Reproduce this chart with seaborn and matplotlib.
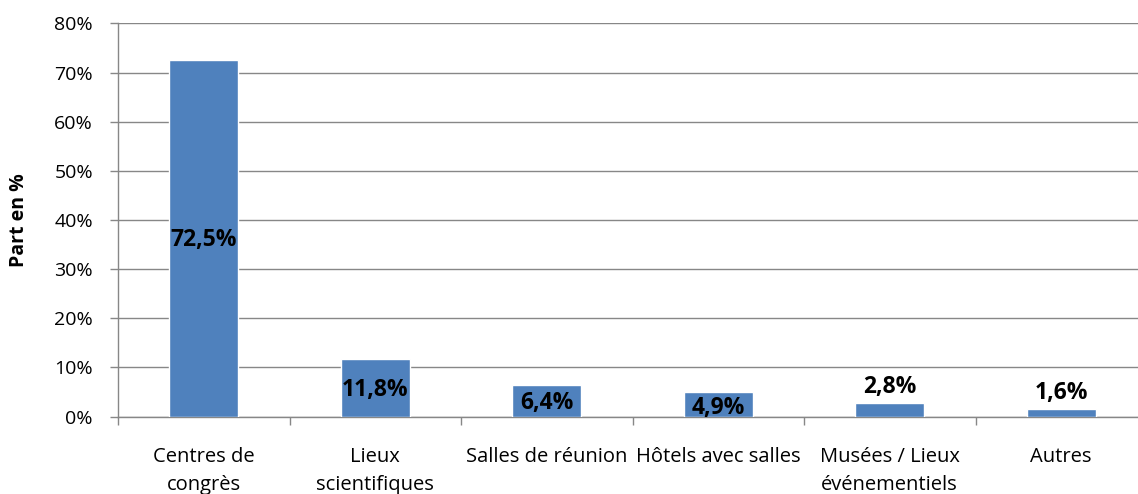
import matplotlib

matplotlib.use("Agg", force=True)
import pandas as pd  # noqa: E402
import seaborn as sns  # noqa: E402
from matplotlib import pyplot as plt  # noqa: E402
from matplotlib.ticker import FuncFormatter, MultipleLocator  # noqa: E402

CATEGORIES = [
    "Centres de\ncongrès",
    "Lieux\nscientifiques",
    "Salles de réunion",
    "Hôtels avec salles",
    "Musées / Lieux\névénementiels",
    "Autres",
]
SHARES = [72.5, 11.8, 6.4, 4.9, 2.8, 1.6]
LABEL_TEXT = ["72,5%", "11,8%", "6,4%", "4,9%", "2,8%", "1,6%"]
LABEL_MODE = ["center", "center", "center", "low", "above", "above"]

BAR_COLOR = "#4F81BD"
GRID_COLOR = "#878787"

sns.set_theme(style="white")
plt.rcParams["font.family"] = ["Open Sans", "DejaVu Sans"]
plt.rcParams["text.color"] = "black"
plt.rcParams["axes.labelcolor"] = "black"

frame = pd.DataFrame({"category": CATEGORIES, "share": SHARES})

W, H = 1138, 494
fig = plt.figure(figsize=(W / 100, H / 100), dpi=100)
ax = fig.add_axes([118 / W, 77.5 / H, 6 * 171.5 / W, 393 / H])

sns.barplot(
    data=frame,
    x="category",
    y="share",
    order=CATEGORIES,
    color=BAR_COLOR,
    width=0.4,
    saturation=1,
    errorbar=None,
    ax=ax,
    zorder=3,
)

ax.set_xlim(-0.5, len(CATEGORIES) - 0.5)
ax.set_ylim(0, 80)
ax.yaxis.set_major_locator(MultipleLocator(10))
ax.yaxis.set_major_formatter(FuncFormatter(lambda v, _: f"{v:.0f}%"))
ax.grid(axis="y", color=GRID_COLOR, linewidth=1.0, zorder=0)
ax.set_axisbelow(True)

for side in ("top", "right"):
    ax.spines[side].set_visible(False)
for side in ("left", "bottom"):
    ax.spines[side].set_color(GRID_COLOR)
    ax.spines[side].set_linewidth(1.0)

# category separators as ticks on the x axis
ax.set_xticks([i - 0.5 for i in range(len(CATEGORIES) + 1)], minor=True)
ax.tick_params(axis="x", which="minor", length=6, width=1, color=GRID_COLOR,
               direction="out", bottom=True)
ax.tick_params(axis="x", which="major", length=0, pad=22, labelsize=14.5,
               labelcolor="black")
ax.tick_params(axis="y", length=6, width=1, color=GRID_COLOR, direction="out",
               left=True, pad=12, labelsize=14, labelcolor="black")
for label in ax.get_xticklabels():
    label.set_linespacing(1.5)
    label.set_verticalalignment("top")

ax.set_xlabel("")
ax.set_ylabel("Part en %", fontsize=14, fontweight="bold", labelpad=18)

for i, (value, text, mode) in enumerate(zip(SHARES, LABEL_TEXT, LABEL_MODE)):
    if mode == "center":
        ax.annotate(text, (i, value / 2), xytext=(0, -2), textcoords="offset pixels",
                    ha="center", va="center", fontsize=16.5, fontweight="bold",
                    color="black", zorder=5)
    elif mode == "low":
        ax.annotate(text, (i, value / 2), xytext=(0, -4), textcoords="offset pixels",
                    ha="center", va="center", fontsize=16.5, fontweight="bold",
                    color="black", zorder=5)
    else:
        ax.annotate(text, (i, value), xytext=(0, 4), textcoords="offset pixels",
                    ha="center", va="bottom", fontsize=16.5, fontweight="bold",
                    color="black", zorder=5)

fig.savefig("out.png", dpi=100)
plt.close(fig)
